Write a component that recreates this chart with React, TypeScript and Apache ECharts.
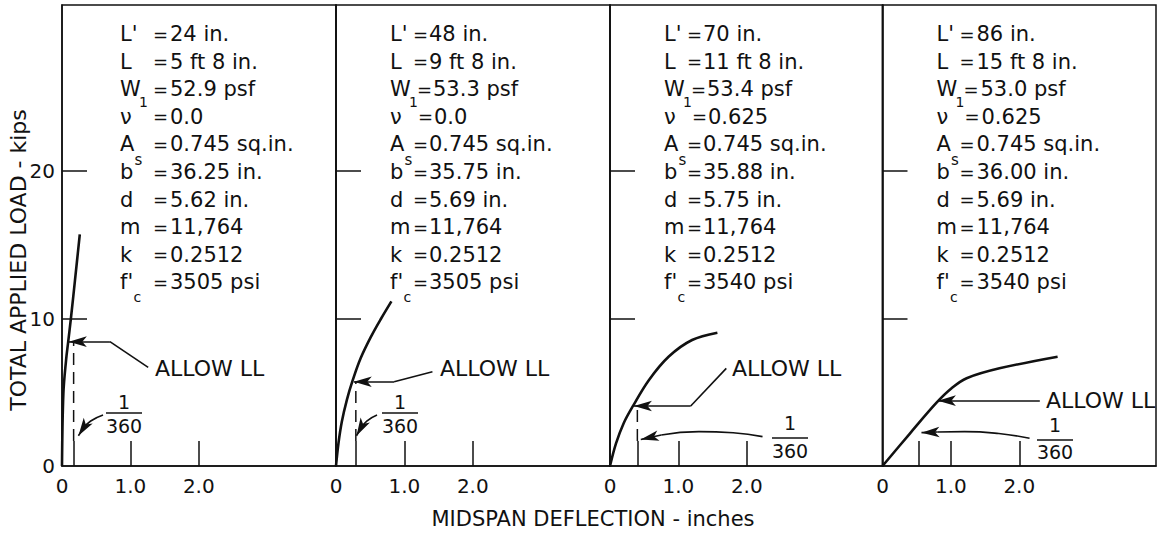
import React, { useEffect, useRef } from "react";
import * as echarts from "echarts";

// ---- data ----
const xLabelValues = [0, 1, 2];
const xTickLabels = ["0", "1.0", "2.0"];
const xTickValues = [1, 2];
const yLabelValues = [0, 10, 20];
const yTickLabels = ["0", "10", "20"];
const yTickValues = [10, 20];

// load (kips) vs midspan deflection (in.)
const curve1 = [[0, 0], [0.02, 4.9], [0.06, 7.2], [0.09, 8.4], [0.13, 10], [0.19, 12.6], [0.26, 15.7]];
const curve2 = [[0, 0], [0.036, 1.54], [0.085, 3.0], [0.16, 4.5], [0.24, 5.75], [0.36, 7.3], [0.52, 8.84], [0.66, 10.0], [0.81, 11.16]];
const curve3 = [[0, 0], [0.088, 1.53], [0.2, 2.9], [0.33, 4.02], [0.57, 5.83], [0.86, 7.42], [1.2, 8.54], [1.57, 9.04]];
const curve4 = [[0, 0], [0.4, 2.2], [0.79, 4.29], [1.01, 5.27], [1.23, 5.95], [1.71, 6.62], [2.56, 7.41]];
const curves = [curve1, curve2, curve3, curve4];

const allowLL = [8.43, 5.71, 4.07, 4.43]; // kips
const span360 = [0.17, 0.29, 0.4, 0.53]; // in.

const paramSymbols = ["L'", "L", "W", "ν", "A", "b", "d", "m", "k", "f'"];
const params1 = ["24 in.", "5 ft 8 in.", "52.9 psf", "0.0", "0.745 sq.in.", "36.25 in.", "5.62 in.", "11,764", "0.2512", "3505 psi"];
const params2 = ["48 in.", "9 ft 8 in.", "53.3 psf", "0.0", "0.745 sq.in.", "35.75 in.", "5.69 in.", "11,764", "0.2512", "3505 psi"];
const params3 = ["70 in.", "11 ft 8 in.", "53.4 psf", "0.625", "0.745 sq.in.", "35.88 in.", "5.75 in.", "11,764", "0.2512", "3540 psi"];
const params4 = ["86 in.", "15 ft 8 in.", "53.0 psf", "0.625", "0.745 sq.in.", "36.00 in.", "5.69 in.", "11,764", "0.2512", "3540 psi"];
const params = [params1, params2, params3, params4];

const yTitle = "TOTAL APPLIED LOAD - kips";
const xTitle = "MIDSPAN DEFLECTION - inches";
const allowText = "ALLOW LL";

// ---- layout / annotation geometry ----
const FONT = "DejaVu Sans";
const INK = "#111";
const PANEL_LEFT = [62, 336, 610, 882.5];
const PANEL_W = [274, 274, 272.5, 273.5];
const TOP = 5;
const H = 461;
const PX_PER_IN = 68.4;

const SYM_OFF = [58, 54, 54, 54];
const EQ_OFF = [91, 77, 77, 77];
const VAL_OFF = [108, 93, 93, 94];
const LINE_SHIFT = [0, 0, 4, 5, 0, 0, 0, 0, 0, 0];
const LINE0 = 34;
const LINE_H = 27.6;

const allowGeom = [
  { tip: 0.1, elbow: 0.7, end: [1.26, 6.69] },
  { tip: 0.26, elbow: 0.85, end: [1.41, 6.39] },
  { tip: 0.35, elbow: 1.18, end: [1.7, 6.62] },
  { tip: 0.81, elbow: 2.3, end: null as null | number[] },
];
const allowTextPos = [[155, 368], [440, 368], [732, 368], [1046, 400]];
// leader path (annotation) for the 1/360 note: points along the arc, last segment carries the arrowhead
const fracGeom = [
  { path: [[0.6, 3.46], [0.42, 3.05], [0.31, 2.55]], to: [0.24, 2.05], cx: 124, y1: 402, bar: 413, y2: 426 },
  { path: [[0.6, 3.46], [0.45, 3.05], [0.36, 2.55]], to: [0.3, 2.05], cx: 400, y1: 402, bar: 413, y2: 426 },
  { path: [[2.23, 1.99], [1.8, 2.25], [1.3, 2.33], [0.75, 2.1]], to: [0.45, 1.8], cx: 790, y1: 423, bar: 438, y2: 451 },
  { path: [[2.15, 1.88], [1.7, 2.2], [1.2, 2.33], [0.8, 2.3]], to: [0.57, 2.26], cx: 1055, y1: 425, bar: 440, y2: 452 },
];

function buildOption() {
  const grid = PANEL_LEFT.map((l, i) => ({
    left: l, top: TOP, width: PANEL_W[i], height: H,
    show: true, borderColor: INK, borderWidth: 1.5, backgroundColor: "transparent",
  }));
  const xAxis = PANEL_LEFT.map((_, i) => ({
    type: "value", gridIndex: i, min: 0, max: PANEL_W[i] / PX_PER_IN,
    axisLine: { show: true, onZero: false, lineStyle: { color: INK, width: 1.5 } },
    axisTick: { show: true, inside: true, length: 25, customValues: [span360[i], ...xTickValues], lineStyle: { color: INK, width: 1.5 } },
    axisLabel: {
      show: true, customValues: xLabelValues, margin: 10, fontSize: 20, color: INK, fontFamily: FONT,
      formatter: (v: number) => { const k = xLabelValues.indexOf(Math.round(v * 1000) / 1000); return k >= 0 ? xTickLabels[k] : ""; },
    },
    splitLine: { show: false },
  }));
  const yAxis = PANEL_LEFT.map((_, i) => ({
    type: "value", gridIndex: i, min: 0, max: H / 14.75,
    axisLine: { show: true, onZero: false, lineStyle: { color: INK, width: 1.5 } },
    axisTick: { show: true, inside: true, length: 25, customValues: yTickValues, lineStyle: { color: INK, width: 1.5 } },
    axisLabel: {
      show: i === 0, customValues: yLabelValues, margin: 7, fontSize: 20, color: INK, fontFamily: FONT,
      formatter: (v: number) => { const k = yLabelValues.indexOf(Math.round(v)); return k >= 0 ? yTickLabels[k] : ""; },
    },
    splitLine: { show: false },
  }));

  const markLineBase = {
    silent: true, animation: false, symbol: ["none", "arrow"], symbolSize: [8, 18],
    label: { show: false }, lineStyle: { color: INK, width: 1.6, type: "solid" },
  };

  const series: any[] = [];
  curves.forEach((c, i) => {
    const g = allowGeom[i];
    const f = fracGeom[i];
    const ml: any[] = [
      [{ coord: [g.elbow, allowLL[i]], symbol: "none" }, { coord: [g.tip, allowLL[i]], symbol: "arrow", symbolSize: [8, 18] }],
    ];
    if (g.end) ml.push([{ coord: g.end, symbol: "none" }, { coord: [g.elbow, allowLL[i]], symbol: "none" }]);
    series.push({
      type: "line", xAxisIndex: i, yAxisIndex: i, data: c, smooth: 0.35, showSymbol: false, symbol: "none",
      lineStyle: { color: INK, width: 2.6 }, silent: true, z: 3,
      markLine: { ...markLineBase, data: ml },
    });
    // curved leader pointing at the L/360 deflection
    const last = f.path[f.path.length - 1];
    series.push({
      type: "line", xAxisIndex: i, yAxisIndex: i, data: f.path, smooth: 0.5, showSymbol: false, symbol: "none", silent: true,
      lineStyle: { color: INK, width: 1.6 },
      markLine: { ...markLineBase, data: [[{ coord: last }, { coord: f.to }]] },
    });
    if (i < 3) {
      series.push({
        type: "line", xAxisIndex: i, yAxisIndex: i, data: [[span360[i], 1.7], [span360[i], allowLL[i]]],
        showSymbol: false, symbol: "none", silent: true,
        lineStyle: { color: INK, width: 1.5, type: [12, 7] },
      });
    }
  });

  const graphic: any[] = [];
  const txt = (x: number, y: number, text: string, size: number, align = "left", extra: any = {}) => ({
    type: "text", x, y, silent: true, ...extra,
    style: { text, fontSize: size, fontFamily: FONT, fill: INK, align, verticalAlign: "middle" },
  });
  params.forEach((p, i) => {
    const x0 = PANEL_LEFT[i];
    p.forEach((v, j) => {
      const y = LINE0 + LINE_H * j;
      const s = i === 0 ? 0 : LINE_SHIFT[j];
      graphic.push(txt(x0 + SYM_OFF[i], y, paramSymbols[j], 21));
      graphic.push(txt(x0 + EQ_OFF[i] + s, y, "=", 18));
      graphic.push(txt(x0 + VAL_OFF[i] + s, y, v, 21));
    });
    graphic.push(txt(x0 + SYM_OFF[i] + 19, LINE0 + LINE_H * 2 + 13, "1", 14));
    graphic.push(txt(x0 + SYM_OFF[i] + 14.5, LINE0 + LINE_H * 4 + 16, "s", 15));
    graphic.push(txt(x0 + SYM_OFF[i] + 13.5, LINE0 + LINE_H * 9 + 15, "c", 14));
    const [ax, ay] = allowTextPos[i];
    graphic.push(txt(ax, ay, allowText, 22));
    const f = fracGeom[i];
    graphic.push(txt(f.cx, f.y1, "1", 19, "center"));
    graphic.push(txt(f.cx, f.y2, "360", 19, "center"));
    graphic.push({ type: "line", silent: true, shape: { x1: f.cx - 18, y1: f.bar, x2: f.cx + 18, y2: f.bar }, style: { stroke: INK, lineWidth: 1.3 } });
  });
  graphic.push(txt(18, 260, yTitle, 22, "center", { rotation: Math.PI / 2 }));
  graphic.push(txt(593, 519, xTitle, 21, "center"));

  return {
    animation: false,
    backgroundColor: "#fff",
    grid, xAxis, yAxis, series, graphic,
  };
}

export default function App() {
  const ref = useRef<HTMLDivElement>(null);
  useEffect(() => {
    if (!ref.current) return;
    const chart = echarts.init(ref.current, undefined, { renderer: "svg" });
    chart.setOption(buildOption() as any);
    return () => chart.dispose();
  }, []);
  return <div ref={ref} style={{ position: "absolute", left: 0, top: 0, width: 1161, height: 536, background: "#fff" }} />;
}
